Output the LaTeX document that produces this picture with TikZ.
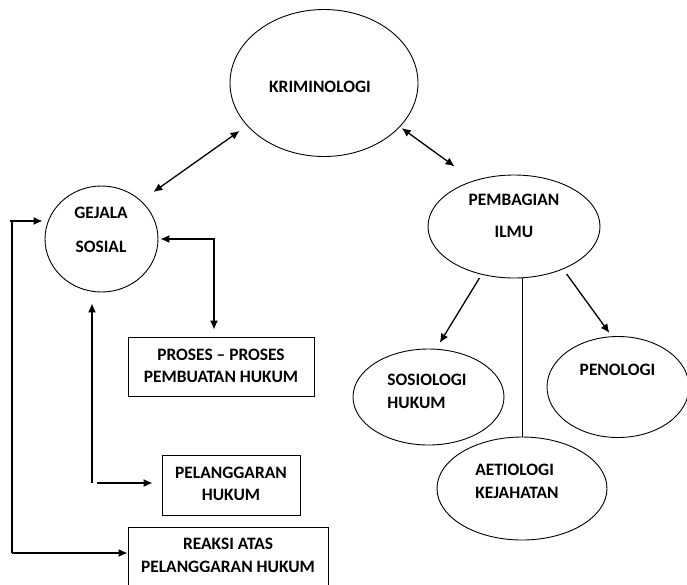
\documentclass[tikz,border=0pt]{standalone}
\usepackage{fontspec}
\setmainfont{Carlito}
\usetikzlibrary{shapes.geometric,arrows.meta}
\begin{document}
\begin{tikzpicture}[x=1pt,y=-1pt,
  shp/.style={draw,ellipse,line width=0.9pt,inner sep=0pt},
  boxn/.style={draw,rectangle,line width=0.9pt,inner sep=0pt},
  lbl/.style={font=\fontsize{17.4}{22.5}\selectfont\bfseries,inner sep=0pt,align=center},
  arr/.style={line width=1.3pt,-{Latex[length=9pt,width=8pt]}},
  arrb/.style={line width=1.3pt,{Latex[length=9pt,width=8pt]}-{Latex[length=9pt,width=8pt]}},
  ln/.style={line width=1.1pt},
  thinln/.style={line width=0.8pt}]
\useasboundingbox (0,0) rectangle (687,584);
\clip (0,0) rectangle (687,584);
% shapes
\node[shp,minimum width=188pt,minimum height=147pt] (krim) at (324,83) {};
\node[shp,minimum width=113pt,minimum height=106pt] (gej) at (101.5,239) {};
\node[shp,minimum width=172pt,minimum height=103pt] (pemb) at (514,226.5) {};
\node[shp,minimum width=151pt,minimum height=96pt] (sos) at (428.5,397) {};
\node[shp,minimum width=142pt,minimum height=101pt] (pen) at (618,387) {};
\node[shp,minimum width=170pt,minimum height=103pt] (aet) at (522,488.5) {};
\node[boxn,minimum width=186pt,minimum height=59pt] (proses) at (221,366.5) {};
\node[boxn,minimum width=138pt,minimum height=60pt] (pel) at (231,485) {};
\node[boxn,minimum width=200pt,minimum height=61pt] (reak) at (228,557.5) {};
% texts
\node[lbl] (tkrim) at (320,87) {KRIMINOLOGI};
\node[lbl] (tgej) at (101,230) {GEJALA\\[11pt]SOSIAL};
\node[lbl] (tpemb) at (514,216) {PEMBAGIAN\\[9pt]ILMU};
\node[lbl,align=left] (tsos) at (427,391.5) {SOSIOLOGI\\HUKUM};
\node[lbl] (tpen) at (617.5,370) {PENOLOGI};
\node[lbl,align=left] (taet) at (517,481.5) {AETIOLOGI\\KEJAHATAN};
\node[lbl] (tproses) at (221,366) {PROSES – PROSES\\PEMBUATAN HUKUM};
\node[lbl] (tpel) at (231,484) {PELANGGARAN\\HUKUM};
\node[lbl] (treak) at (228,555.5) {REAKSI ATAS\\PELANGGARAN HUKUM};
% connectors
\draw[arrb,shorten <=9pt,shorten >=15pt] (krim.209) -- (gej.44);
\draw[arrb,shorten <=2pt,shorten >=24pt] (krim.330) -- (pemb.131);
\draw[arr,shorten <=4pt,shorten >=7pt] (pemb.236.6) -- (sos.81);
\draw[thinln] (aet.north |- pemb.south) -- (aet.north);
\draw[arr,shorten <=6pt,shorten >=4pt] (pemb.319) -- (pen.97);
\draw[arrb,shorten >=7pt] ([xshift=2pt]gej.east) -| ([xshift=-7pt]proses.north);
\coordinate (pc) at (92,483);
\draw[arr,shorten >=11pt] (pc) -- (pc |- gej.south);
\draw[arr,shorten >=9pt] ([xshift=5pt]pc) -- (pc -| pel.west);
\coordinate (lt) at (10,221);
\coordinate (lb) at (12,553);
\draw[arr,shorten >=2pt] (lt) -- (lt -| gej.west);
\draw[ln] (lt -| lb) -- (lb);
\draw[arr] (lb) -- (lb -| reak.west);
\end{tikzpicture}
\end{document}
